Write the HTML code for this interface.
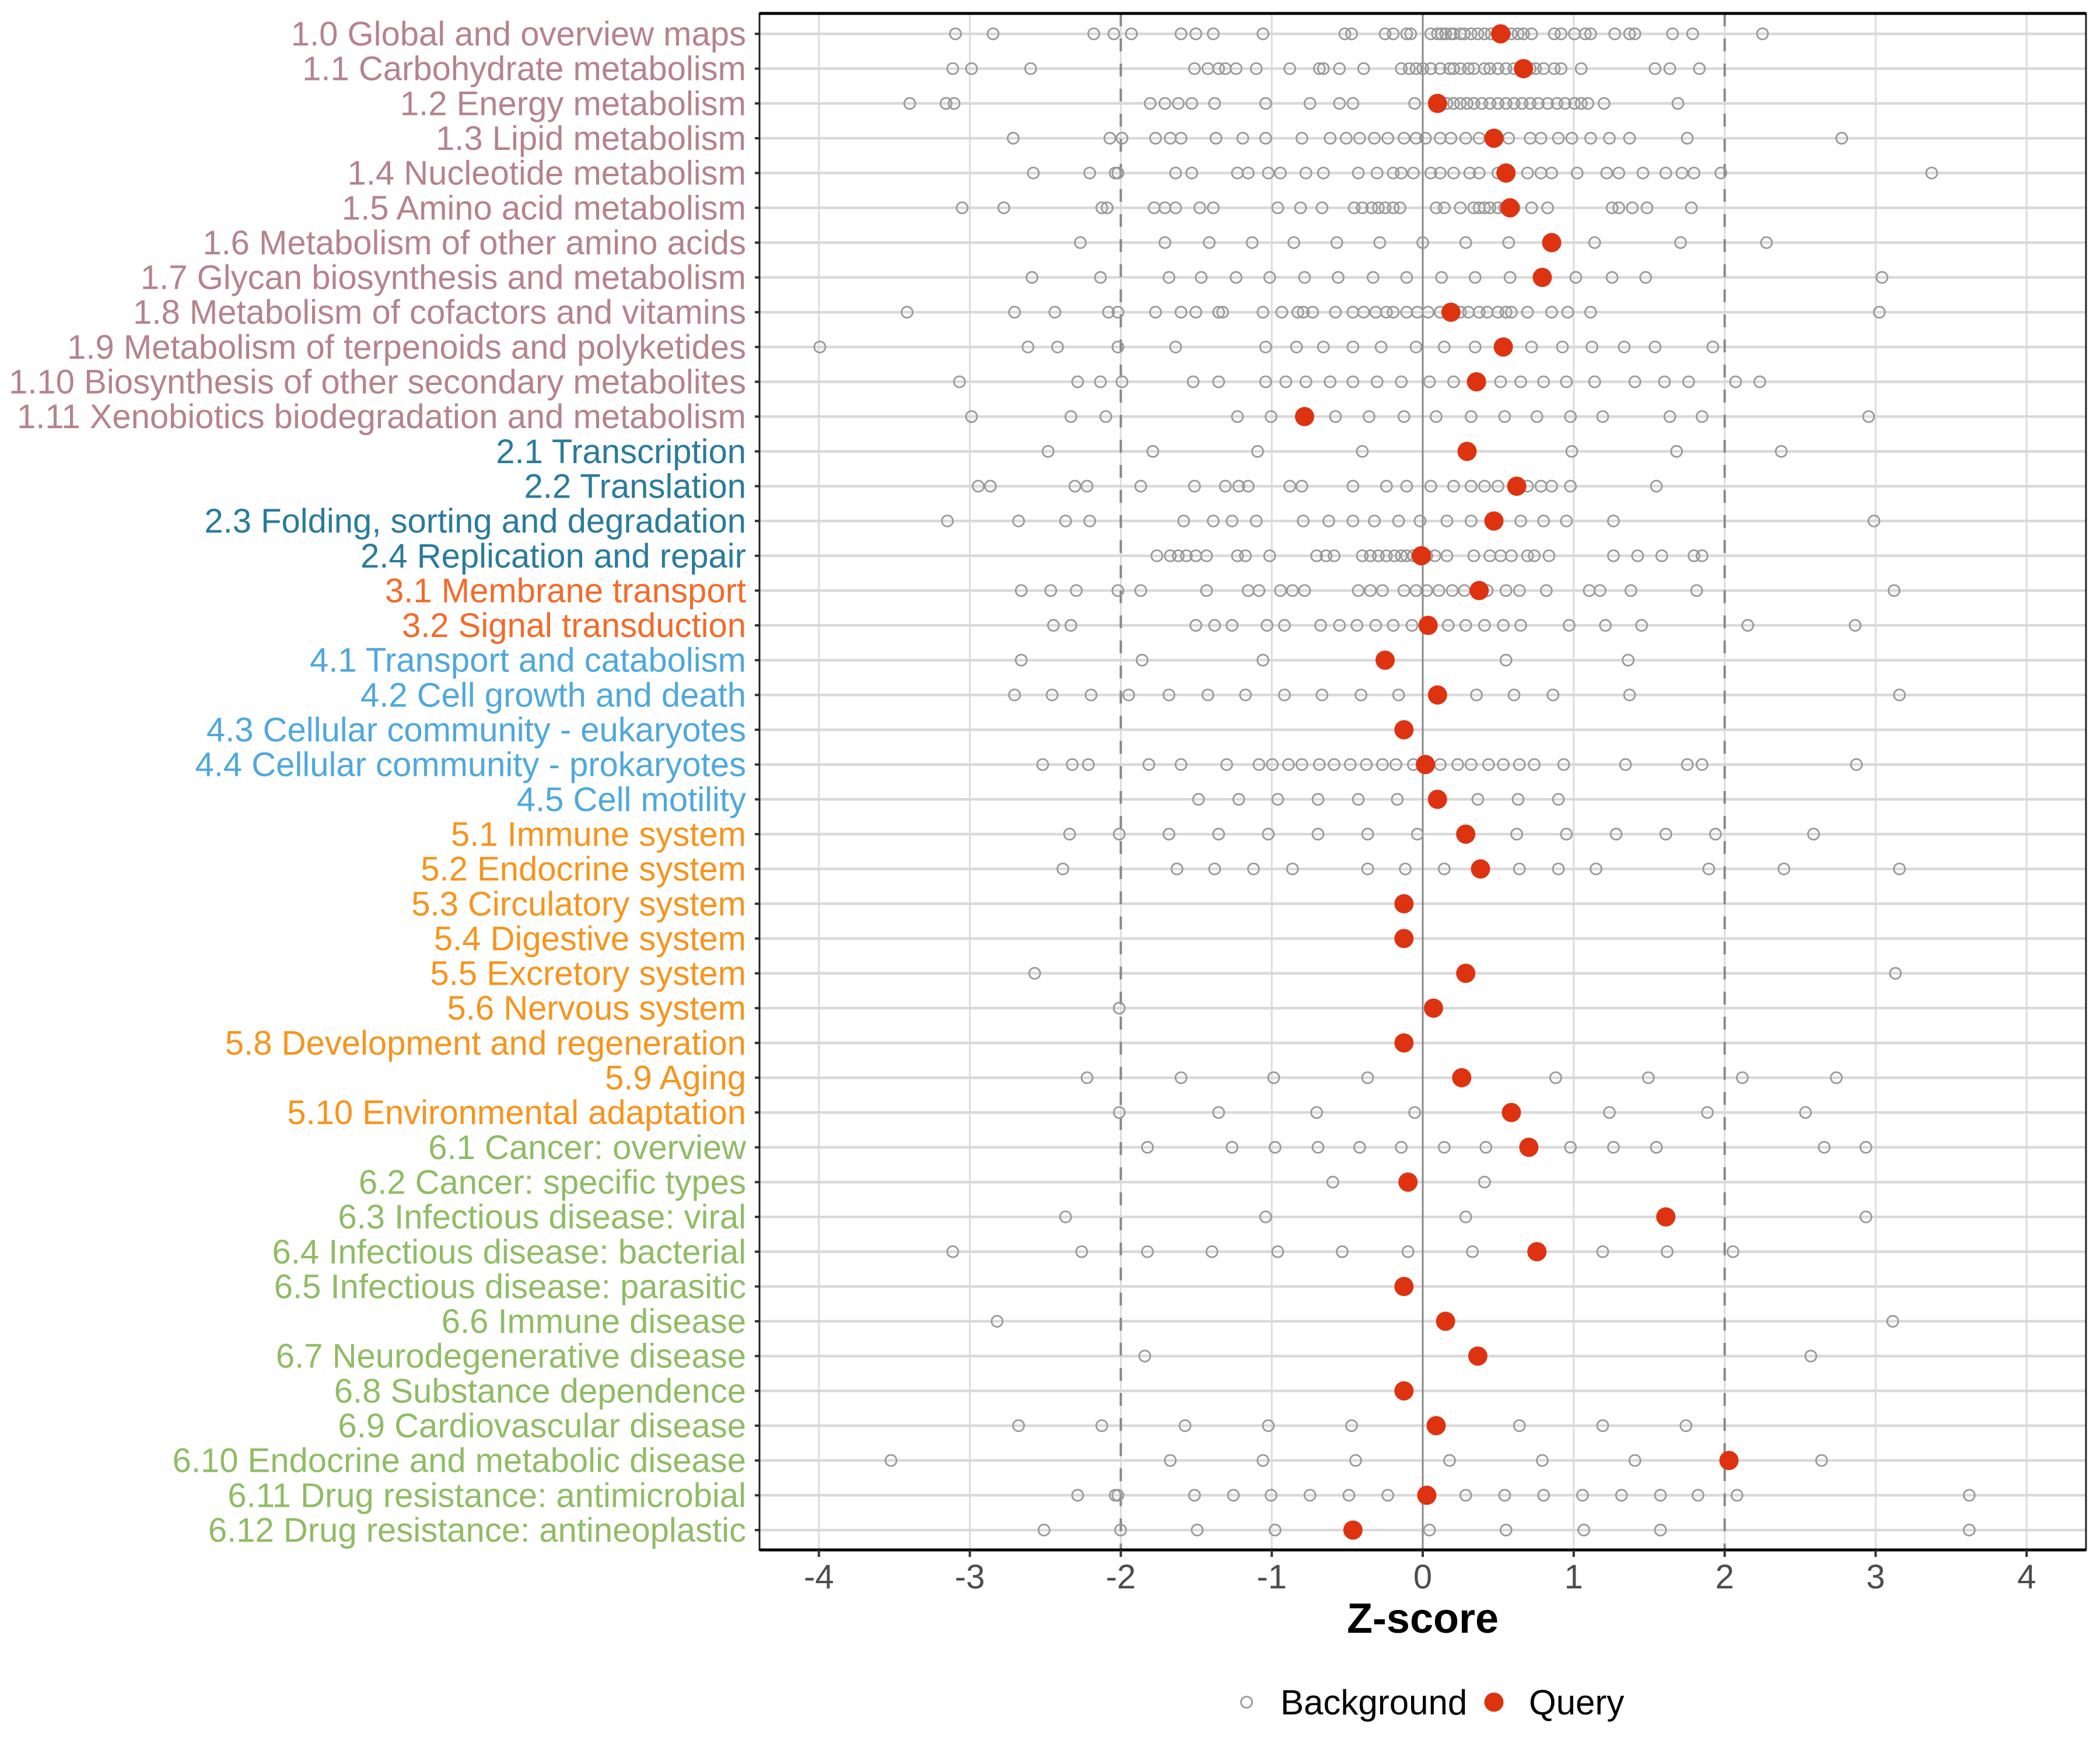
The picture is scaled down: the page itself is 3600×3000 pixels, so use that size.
<!DOCTYPE html>
<html><head><meta charset="utf-8"><style>html,body{margin:0;padding:0;background:#fff}svg{display:block}</style></head>
<body>
<svg id="s" xmlns="http://www.w3.org/2000/svg" width="3600" height="3000" viewBox="0 0 3600 3000" font-family="Liberation Sans, sans-serif"></svg>
<script>
const rows=[
["1.0 Global and overview maps","#b5838d",1120,[714,742,817,832,845,882,893,906,943,1004,1009,1034,1040,1050,1053,1068,1073,1076,1079,1083,1085,1090,1093,1098,1103,1108,1113,1118,1123,1128,1133,1137,1143,1160,1165,1175,1183,1187,1205,1216,1220,1248,1263,1315]],
["1.1 Carbohydrate metabolism","#b5838d",1137,[712,726,770,892,902,910,915,923,938,963,985,988,1000,1018,1046,1052,1057,1062,1068,1075,1082,1085,1090,1096,1100,1108,1112,1118,1124,1130,1142,1146,1152,1160,1165,1180,1235,1246,1268]],
["1.2 Energy metabolism","#b5838d",1073,[680,707,713,859,870,880,890,907,945,978,1000,1010,1056,1080,1085,1090,1095,1100,1106,1112,1118,1124,1130,1136,1142,1148,1155,1162,1168,1175,1180,1185,1197,1252]],
["1.3 Lipid metabolism","#b5838d",1115,[757,829,838,863,874,882,908,928,945,972,993,1005,1015,1026,1036,1048,1057,1064,1075,1083,1094,1104,1118,1126,1142,1150,1163,1173,1187,1201,1216,1259,1374]],
["1.4 Nucleotide metabolism","#b5838d",1124,[772,814,833,835,878,890,924,932,947,956,975,988,1014,1028,1040,1046,1055,1068,1075,1085,1097,1104,1118,1122,1140,1150,1158,1177,1199,1208,1226,1243,1255,1264,1284,1441]],
["1.5 Amino acid metabolism","#b5838d",1127,[719,750,823,827,862,870,878,896,906,954,971,987,1011,1017,1024,1029,1034,1040,1045,1072,1078,1090,1100,1104,1108,1112,1118,1123,1130,1143,1155,1203,1208,1218,1229,1262]],
["1.6 Metabolism of other amino acids","#b5838d",1158,[807,870,903,935,966,998,1030,1062,1094,1126,1190,1254,1318]],
["1.7 Glycan biosynthesis and metabolism","#b5838d",1151,[771,822,873,897,923,948,974,999,1025,1050,1076,1101,1127,1176,1203,1228,1404]],
["1.8 Metabolism of cofactors and vitamins","#b5838d",1083,[678,758,788,828,835,863,882,893,910,913,943,957,969,973,980,997,1010,1018,1027,1035,1040,1050,1058,1066,1075,1090,1096,1104,1110,1118,1124,1128,1140,1158,1170,1187,1402]],
["1.9 Metabolism of terpenoids and polyketides","#b5838d",1122,[613,768,790,835,878,945,968,988,1010,1031,1057,1078,1101,1143,1166,1188,1212,1235,1278]],
["1.10 Biosynthesis of other secondary metabolites","#b5838d",1102,[717,805,822,838,891,910,945,960,975,993,1010,1028,1046,1067,1085,1120,1135,1152,1169,1190,1220,1242,1260,1295,1313]],
["1.11 Xenobiotics biodegradation and metabolism","#b5838d",974,[726,800,826,924,949,997,1022,1048,1072,1098,1123,1147,1172,1196,1246,1270,1394]],
["2.1 Transcription","#2a7b9b",1095,[783,861,939,1017,1173,1251,1329]],
["2.2 Translation","#2a7b9b",1132,[731,740,803,812,852,892,915,925,932,963,972,1010,1035,1050,1068,1085,1098,1108,1118,1140,1150,1158,1172,1236]],
["2.3 Folding, sorting and degradation","#2a7b9b",1115,[708,761,796,814,884,906,920,938,973,992,1010,1026,1044,1060,1080,1098,1135,1152,1169,1204,1398]],
["2.4 Replication and repair","#2a7b9b",1061,[864,874,880,886,893,901,924,930,948,983,990,996,1017,1023,1029,1035,1041,1046,1050,1055,1065,1071,1080,1100,1112,1120,1128,1140,1145,1156,1204,1222,1240,1264,1270]],
["3.1 Membrane transport","#f26b2a",1104,[763,785,804,835,852,901,932,940,956,965,974,1014,1023,1032,1048,1057,1065,1074,1084,1093,1110,1124,1134,1154,1186,1194,1217,1266,1413]],
["3.2 Signal transduction","#f26b2a",1066,[787,800,893,907,920,946,959,986,1000,1013,1027,1040,1054,1081,1094,1108,1122,1135,1171,1198,1225,1304,1384]],
["4.1 Transport and catabolism","#4fa8dc",1034,[763,853,943,1124,1215]],
["4.2 Cell growth and death","#4fa8dc",1073,[758,786,815,843,873,902,930,959,987,1016,1044,1102,1130,1159,1216,1417]],
["4.3 Cellular community - eukaryotes","#4fa8dc",1048,[]],
["4.4 Cellular community - prokaryotes","#4fa8dc",1064,[779,801,813,858,882,916,940,950,962,972,985,996,1008,1020,1032,1042,1055,1075,1088,1098,1111,1122,1134,1145,1167,1213,1259,1270,1385]],
["4.5 Cell motility","#4fa8dc",1073,[895,925,954,984,1014,1043,1103,1133,1163]],
["5.1 Immune system","#f7941d",1094,[799,836,873,910,947,984,1021,1058,1132,1169,1206,1243,1280,1353]],
["5.2 Endocrine system","#f7941d",1105,[794,879,907,936,965,1021,1049,1078,1134,1163,1191,1275,1331,1417]],
["5.3 Circulatory system","#f7941d",1048,[]],
["5.4 Digestive system","#f7941d",1048,[]],
["5.5 Excretory system","#f7941d",1094,[773,1414]],
["5.6 Nervous system","#f7941d",1070,[836]],
["5.8 Development and regeneration","#f7941d",1048,[]],
["5.9 Aging","#f7941d",1091,[812,882,951,1021,1161,1230,1300,1370]],
["5.10 Environmental adaptation","#f7941d",1128,[836,910,983,1056,1201,1274,1347]],
["6.1 Cancer: overview","#8fbc65",1141,[857,920,952,984,1015,1046,1078,1109,1172,1204,1236,1361,1392]],
["6.2 Cancer: specific types","#8fbc65",1051,[995,1108]],
["6.3 Infectious disease: viral","#8fbc65",1243,[796,945,1094,1392]],
["6.4 Infectious disease: bacterial","#8fbc65",1147,[712,808,857,905,954,1002,1051,1099,1196,1244,1293]],
["6.5 Infectious disease: parasitic","#8fbc65",1048,[]],
["6.6 Immune disease","#8fbc65",1079,[745,1412]],
["6.7 Neurodegenerative disease","#8fbc65",1103,[855,1351]],
["6.8 Substance dependence","#8fbc65",1048,[]],
["6.9 Cardiovascular disease","#8fbc65",1072,[761,823,885,947,1009,1134,1196,1258]],
["6.10 Endocrine and metabolic disease","#8fbc65",1290,[666,874,943,1012,1082,1151,1220,1359]],
["6.11 Drug resistance: antimicrobial","#8fbc65",1065,[805,833,835,892,921,949,978,1007,1036,1094,1123,1152,1181,1210,1239,1267,1296,1469]],
["6.12 Drug resistance: antineoplastic","#8fbc65",1010,[780,837,894,952,1067,1124,1182,1239,1469]]
];
const X0=2439,U=258.8,tx=x=>X0+(x-1062)*2.302,zx=z=>X0+z*U;
const L=1302,R=3576,T=23,B=2657,Y0=58,DY=59.65;
let h='';
h+=`<rect x="${L}" y="${T}" width="${R-L}" height="${B-T}" fill="#fff"/>`;
for(let z=-4;z<=4;z++)h+=`<line x1="${zx(z)}" x2="${zx(z)}" y1="${T}" y2="${B}" stroke="#dcdcdc" stroke-width="3"/>`;
rows.forEach((r,i)=>{const y=Y0+i*DY;h+=`<line x1="${L}" x2="${R}" y1="${y}" y2="${y}" stroke="#d9d9d9" stroke-width="4.5"/>`;});
h+=`<line x1="${zx(0)}" x2="${zx(0)}" y1="${T}" y2="${B}" stroke="#888" stroke-width="3"/>`;
[-2,2].forEach(z=>h+=`<line x1="${zx(z)}" x2="${zx(z)}" y1="${T}" y2="${B}" stroke="#888" stroke-width="4" stroke-dasharray="22,21"/>`);
rows.forEach((r,i)=>{const y=Y0+i*DY;
 r[3].forEach(x=>h+=`<circle cx="${tx(x).toFixed(1)}" cy="${y}" r="9.5" fill="none" stroke="#999" stroke-width="2.8"/>`);
 h+=`<circle cx="${tx(r[2]).toFixed(1)}" cy="${y}" r="16.5" fill="#dd3311"/>`;
 h+=`<line x1="${L-8}" x2="${L}" y1="${y}" y2="${y}" stroke="#333" stroke-width="4"/>`;
 h+=`<text x="1279" y="${y+20}" text-anchor="end" font-size="58" fill="${r[1]}">${r[0]}</text>`;
});
h+=`<rect x="${L}" y="${T}" width="${R-L}" height="${B-T}" fill="none" stroke="#222" stroke-width="3"/>`;
h+=`<line x1="${L}" x2="${R}" y1="${T}" y2="${T}" stroke="#000" stroke-width="5"/>`;
h+=`<line x1="${L}" x2="${R}" y1="${B}" y2="${B}" stroke="#000" stroke-width="5"/>`;
for(let z=-4;z<=4;z++){h+=`<line x1="${zx(z)}" x2="${zx(z)}" y1="${B}" y2="${B+12}" stroke="#333" stroke-width="4"/>`;
 h+=`<text x="${zx(z)}" y="2723" text-anchor="middle" font-size="58" fill="#4d4d4d">${z}</text>`;}
h+=`<text x="2439" y="2799" text-anchor="middle" font-size="72" font-weight="bold" fill="#000">Z-score</text>`;
h+=`<circle cx="2137" cy="2918" r="9.5" fill="none" stroke="#999" stroke-width="2.8"/>`;
h+=`<text x="2195" y="2939" font-size="60" fill="#000">Background</text>`;
h+=`<circle cx="2561" cy="2918" r="16.5" fill="#dd3311"/>`;
h+=`<text x="2621" y="2939" font-size="60" fill="#000">Query</text>`;
document.getElementById('s').innerHTML=h;
</script>
</body></html>
